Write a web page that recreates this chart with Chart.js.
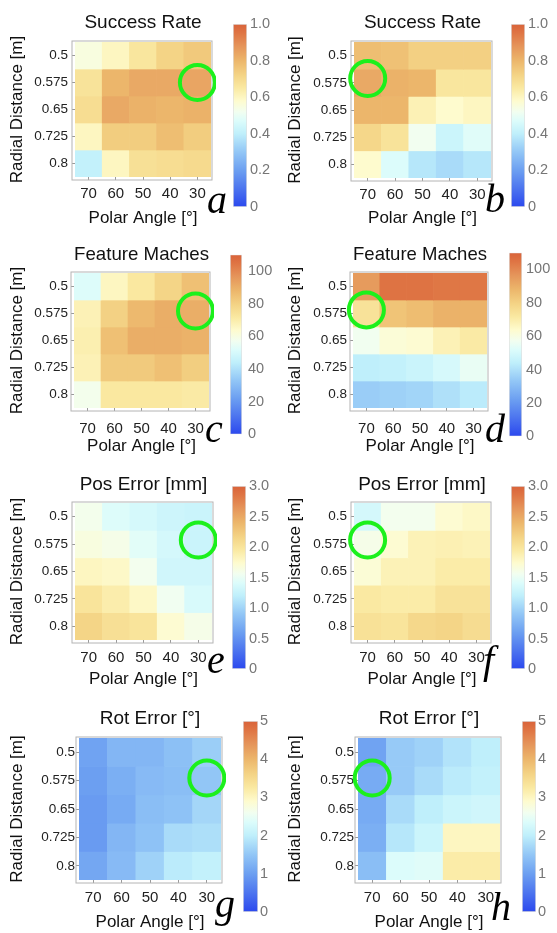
<!DOCTYPE html>
<html>
<head>
<meta charset="utf-8">
<script src="https://cdn.jsdelivr.net/npm/chart.js@4.4.1/dist/chart.umd.min.js"></script>
<style>
  body { margin: 0; background: #fff; width: 557px; height: 933px; overflow: hidden; position: relative; }
  canvas { position: absolute; }
  .tag { position: absolute; font-family: "Liberation Serif", "Times New Roman", serif; font-style: italic; font-size: 40px; line-height: 40px; color: #000; }
</style>
</head>
<body>
<script>
// axes
const ANGLES = ['70', '60', '50', '40', '30'];
const DISTANCES = [0.5, 0.575, 0.65, 0.725, 0.8];

// cell values, rows = radial distance, columns = polar angle
const SUCCESS_A = [
  [0.55, 0.60, 0.66, 0.72, 0.75],
  [0.67, 0.80, 0.83, 0.83, 0.84],
  [0.69, 0.83, 0.81, 0.80, 0.81],
  [0.60, 0.74, 0.74, 0.78, 0.74],
  [0.41, 0.60, 0.68, 0.69, 0.70]
];
const SUCCESS_B = [
  [0.78, 0.77, 0.73, 0.73, 0.73],
  [0.83, 0.81, 0.80, 0.66, 0.66],
  [0.80, 0.80, 0.62, 0.58, 0.60],
  [0.71, 0.67, 0.52, 0.43, 0.48],
  [0.58, 0.47, 0.38, 0.35, 0.38]
];
const FEATURES_C = [
  [52, 66, 72, 79, 85],
  [68, 80, 87, 90, 90],
  [69, 85, 90, 90, 89],
  [68, 82, 82, 85, 81],
  [58, 72, 72, 72, 71]
];
const FEATURES_D = [
  [95, 105, 105, 104, 104],
  [74, 84, 86, 89, 89],
  [57, 62, 63, 68, 71],
  [44, 45, 47, 50, 55],
  [35, 36, 37, 40, 43]
];
const POS_E = [
  [1.58, 1.42, 1.36, 1.30, 1.28],
  [1.65, 1.60, 1.45, 1.35, 1.28],
  [1.80, 1.77, 1.57, 1.32, 1.32],
  [2.00, 1.90, 1.78, 1.55, 1.38],
  [2.15, 2.05, 2.00, 1.72, 1.60]
];
const POS_F = [
  [1.35, 1.57, 1.57, 1.72, 1.78],
  [1.60, 1.72, 1.85, 1.87, 1.85],
  [1.70, 1.85, 1.85, 1.92, 1.92],
  [1.95, 1.92, 1.92, 2.02, 2.02],
  [2.03, 2.00, 2.12, 2.15, 2.08]
];
const ROT_G = [
  [1.05, 1.30, 1.30, 1.42, 1.60],
  [1.00, 1.20, 1.35, 1.40, 1.50],
  [0.95, 1.15, 1.40, 1.45, 1.70],
  [0.95, 1.30, 1.45, 1.75, 1.80],
  [1.10, 1.35, 1.65, 1.95, 2.05]
];
const ROT_H = [
  [1.05, 1.55, 1.65, 1.85, 2.00],
  [1.15, 1.55, 1.75, 1.95, 2.05],
  [1.15, 1.75, 2.00, 2.15, 2.20],
  [1.20, 1.90, 2.15, 3.00, 3.00],
  [1.40, 2.35, 2.40, 3.20, 3.20]
];

// colour bar ranges and ticks
const SUCCESS_RANGE = [0, 1];
const SUCCESS_TICKS = [0, 0.2, 0.4, 0.6, 0.8, 1.0];
const SUCCESS_LABELS = ['0', '0.2', '0.4', '0.6', '0.8', '1.0'];
const FEATURES_RANGE = [0, 110];
const FEATURES_TICKS = [0, 20, 40, 60, 80, 100];
const FEATURES_LABELS = ['0', '20', '40', '60', '80', '100'];
const POS_RANGE = [0, 3];
const POS_TICKS = [0, 0.5, 1.0, 1.5, 2.0, 2.5, 3.0];
const POS_LABELS = ['0', '0.5', '1.0', '1.5', '2.0', '2.5', '3.0'];
const ROT_RANGE = [0, 5];
const ROT_TICKS = [0, 1, 2, 3, 4, 5];
const ROT_LABELS = ['0', '1', '2', '3', '4', '5'];

// highlighted configuration (green circle)
const CIRCLE_ANGLE = ['30', '70', '30', '70', '30', '70', '30', '70'];
const CIRCLE_DIST = [0.575, 0.563, 0.568, 0.565, 0.564, 0.564, 0.568, 0.568];

const TITLES = ['Success Rate', 'Success Rate', 'Feature Maches', 'Feature Maches',
  'Pos Error [mm]', 'Pos Error [mm]', 'Rot Error [°]', 'Rot Error [°]'];
const TAGS = ['a', 'b', 'c', 'd', 'e', 'f', 'g', 'h'];
const VALUES = [SUCCESS_A, SUCCESS_B, FEATURES_C, FEATURES_D, POS_E, POS_F, ROT_G, ROT_H];
const RANGES = [SUCCESS_RANGE, SUCCESS_RANGE, FEATURES_RANGE, FEATURES_RANGE, POS_RANGE, POS_RANGE, ROT_RANGE, ROT_RANGE];
const TICKS = [SUCCESS_TICKS, SUCCESS_TICKS, FEATURES_TICKS, FEATURES_TICKS, POS_TICKS, POS_TICKS, ROT_TICKS, ROT_TICKS];
const TICK_LABELS = [SUCCESS_LABELS, SUCCESS_LABELS, FEATURES_LABELS, FEATURES_LABELS, POS_LABELS, POS_LABELS, ROT_LABELS, ROT_LABELS];

// page layout (pixels): cell area L,T,R,B, title / axis-title centres, colour bar box
const LAYOUT = [
  { x0: 0,   y0: 0,   L: 75,  T: 42,  R: 211, B: 177, titleY: 22.5, xTitleY: 218.5, xPad: 5,   yPad: 4, cb: [233, 24, 247, 207],  cbPad: 3, tag: [207, 213] },
  { x0: 278, y0: 0,   L: 354, T: 42,  R: 491, B: 178, titleY: 22.5, xTitleY: 218.5, xPad: 5,   yPad: 4, cb: [511, 24, 525, 207],  cbPad: 3, tag: [485, 212] },
  { x0: 0,   y0: 235, L: 74,  T: 273, R: 209, B: 408, titleY: 255,  xTitleY: 447,   xPad: 9,   yPad: 3, cb: [230, 252, 242, 437], cbPad: 6, tag: [205, 442] },
  { x0: 278, y0: 235, L: 353, T: 273, R: 487, B: 408, titleY: 255,  xTitleY: 447,   xPad: 9,   yPad: 3, cb: [509, 252, 522, 437], cbPad: 4, tag: [485, 442] },
  { x0: 0,   y0: 470, L: 75,  T: 503, R: 212, B: 640, titleY: 485,  xTitleY: 680,   xPad: 5.5, yPad: 4, cb: [232, 486, 246, 669], cbPad: 3, tag: [207, 673] },
  { x0: 278, y0: 470, L: 354, T: 503, R: 490, B: 640, titleY: 485,  xTitleY: 680,   xPad: 5.5, yPad: 4, cb: [511, 486, 525, 669], cbPad: 3, tag: [483, 673] },
  { x0: 0,   y0: 700, L: 79,  T: 738, R: 221, B: 880, titleY: 719,  xTitleY: 922.5, xPad: 5.5, yPad: 1, cb: [243, 721, 258, 912], cbPad: 2, tag: [215, 917] },
  { x0: 278, y0: 700, L: 358, T: 738, R: 500, B: 880, titleY: 719,  xTitleY: 922.5, xPad: 5.5, yPad: 1, cb: [522, 721, 536, 912], cbPad: 2, tag: [491, 920] }
];

// temperature-like colour map
const CMAP = [
  [0.00, '#2b48ee'], [0.10, '#4c74ef'], [0.20, '#6c9ff1'], [0.30, '#92c6f6'],
  [0.40, '#bfeffb'], [0.47, '#dcfcfb'], [0.52, '#f2fef0'], [0.58, '#fefbce'],
  [0.65, '#fae9a2'], [0.72, '#f4d486'], [0.80, '#ecb66b'], [0.88, '#e5945a'],
  [0.95, '#df7544'], [1.00, '#d9633a']
];
const hexRgb = h => [1, 3, 5].map(i => parseInt(h.substr(i, 2), 16));
function colorAt(t) {
  t = Math.max(0, Math.min(1, t));
  for (let i = 1; i < CMAP.length; i++) {
    if (t <= CMAP[i][0]) {
      const [t0, c0] = CMAP[i - 1], [t1, c1] = CMAP[i];
      const f = (t - t0) / (t1 - t0);
      const a = hexRgb(c0), b = hexRgb(c1);
      return `rgb(${a.map((v, k) => Math.round(v + (b[k] - v) * f)).join(',')})`;
    }
  }
  return CMAP[CMAP.length - 1][1];
}

const FONT = '"Liberation Sans", Arial, Helvetica, sans-serif';

// thin frame a few pixels outside the cells, like the original plot frame
const framePlugin = {
  id: 'frame',
  beforeDatasetsDraw(chart) {
    const { ctx, chartArea: a } = chart;
    ctx.save();
    ctx.strokeStyle = '#b4b4b4';
    ctx.lineWidth = 1;
    ctx.strokeRect(a.left - 3, a.top - 1, a.right - a.left + 4, a.bottom - a.top + 4);
    ctx.restore();
  }
};

function addCanvas(left, top, w, h) {
  const c = document.createElement('canvas');
  c.width = w; c.height = h;
  c.style.left = left + 'px'; c.style.top = top + 'px';
  c.style.width = w + 'px'; c.style.height = h + 'px';
  document.body.appendChild(c);
  return c;
}

function heatmap(i) {
  const lay = LAYOUT[i];
  const vals = VALUES[i];
  const [lo, hi] = RANGES[i];
  const step = DISTANCES[1] - DISTANCES[0];
  const half = step / 2;
  const width = Math.round(lay.R + 5 - lay.x0);
  const height = Math.min(933 - lay.y0, Math.round(lay.xTitleY + 10.2 - lay.y0));
  const bottom = lay.y0 + height;
  const titleLh = 19 * 1.2, axisLh = 17 * 1.2;

  const cells = DISTANCES.map((d, r) => ({
    type: 'bar',
    data: ANGLES.map(() => [d - half, d + half]),
    backgroundColor: vals[r].map(v => colorAt((v - lo) / (hi - lo))),
    grouped: false,
    barPercentage: 1,
    categoryPercentage: 1,
    borderWidth: 0,
    order: 1
  }));
  const circle = {
    type: 'line',
    data: ANGLES.map(a => a === CIRCLE_ANGLE[i] ? CIRCLE_DIST[i] : null),
    showLine: false,
    pointRadius: 17.5,
    pointBorderWidth: 4,
    pointBorderColor: '#1cf01c',
    pointBackgroundColor: 'rgba(0,0,0,0)',
    clip: false,
    order: 0
  };

  new Chart(addCanvas(lay.x0, lay.y0, width, height), {
    data: { labels: ANGLES, datasets: [...cells, circle] },
    options: {
      responsive: false,
      animation: false,
      events: [],
      layout: { autoPadding: false, padding: { left: 0, right: width - (lay.R - lay.x0), top: 0, bottom: 0 } },
      plugins: {
        legend: { display: false },
        tooltip: { enabled: false },
        title: {
          display: true, text: TITLES[i], fullSize: false, color: '#111',
          font: { family: FONT, size: 19, weight: 'normal' },
          padding: { top: lay.titleY - lay.y0 - titleLh / 2, bottom: lay.T - lay.titleY - titleLh / 2 }
        }
      },
      scales: {
        x: {
          type: 'category',
          offset: true,
          afterFit: s => { s.height = bottom - lay.B; },
          grid: { offset: false, drawOnChartArea: false, drawTicks: true, tickLength: 3, color: '#9a9a9a' },
          border: { display: false },
          ticks: { color: '#222', padding: lay.xPad, maxRotation: 0, font: { family: FONT, size: 15 } },
          title: {
            display: true, text: 'Polar Angle [°]', color: '#111',
            font: { family: FONT, size: 17 },
            padding: { top: 0, bottom: Math.max(0, bottom - lay.xTitleY - axisLh / 2) }
          }
        },
        y: {
          type: 'linear',
          reverse: true,
          min: DISTANCES[0] - half,
          max: DISTANCES[DISTANCES.length - 1] + half,
          afterFit: s => { s.width = lay.L - lay.x0; },
          afterBuildTicks: s => { s.ticks = DISTANCES.map(v => ({ value: v })); },
          grid: { drawOnChartArea: false, drawTicks: true, tickLength: 3, color: '#9a9a9a' },
          border: { display: false },
          ticks: { color: '#222', padding: lay.yPad, font: { family: FONT, size: 13.5 }, callback: v => String(v) },
          title: {
            display: true, text: 'Radial Distance [m]', color: '#111',
            font: { family: FONT, size: 17 },
            padding: { top: 17 - axisLh / 2, bottom: 0 }
          }
        }
      }
    },
    plugins: [framePlugin]
  });
}

function colorbar(i) {
  const lay = LAYOUT[i];
  const [l, t, r, b] = lay.cb;
  const [lo, hi] = RANGES[i];
  const ticks = TICKS[i], labels = TICK_LABELS[i];
  const padV = 12, padL = 2, axisW = 40;
  const w = r - l + padL + axisW, h = b - t + 2 * padV;

  new Chart(addCanvas(l - padL, t - padV, w, h), {
    type: 'bar',
    data: {
      labels: [''],
      datasets: [{
        data: [[lo, hi]],
        barPercentage: 1,
        categoryPercentage: 1,
        borderWidth: 1,
        borderColor: 'rgba(0,0,0,0.12)',
        borderSkipped: false,
        backgroundColor: ctx => {
          const area = ctx.chart.chartArea;
          if (!area) return '#fff';
          const g = ctx.chart.ctx.createLinearGradient(0, area.bottom, 0, area.top);
          CMAP.forEach(([p, c]) => g.addColorStop(p, c));
          return g;
        }
      }]
    },
    options: {
      responsive: false,
      animation: false,
      events: [],
      layout: { autoPadding: false, padding: { left: padL, right: 0, top: padV, bottom: padV } },
      plugins: { legend: { display: false }, tooltip: { enabled: false } },
      scales: {
        x: { display: false },
        y: {
          position: 'right',
          min: lo, max: hi,
          afterFit: s => { s.width = axisW; },
          afterBuildTicks: s => { s.ticks = ticks.map(v => ({ value: v })); },
          grid: { display: false, drawTicks: false },
          border: { display: false },
          ticks: { color: '#767676', padding: lay.cbPad, font: { family: FONT, size: 14.5 },
                   callback: (v, k) => labels[k] }
        }
      }
    }
  });
}

function tag(i) {
  const [x, base] = LAYOUT[i].tag;
  const el = document.createElement('div');
  el.className = 'tag';
  el.textContent = TAGS[i];
  el.style.left = x + 'px';
  el.style.top = (base - 33.5) + 'px';
  document.body.appendChild(el);
}

for (let i = 0; i < 8; i++) { heatmap(i); colorbar(i); tag(i); }
</script>
</body>
</html>
